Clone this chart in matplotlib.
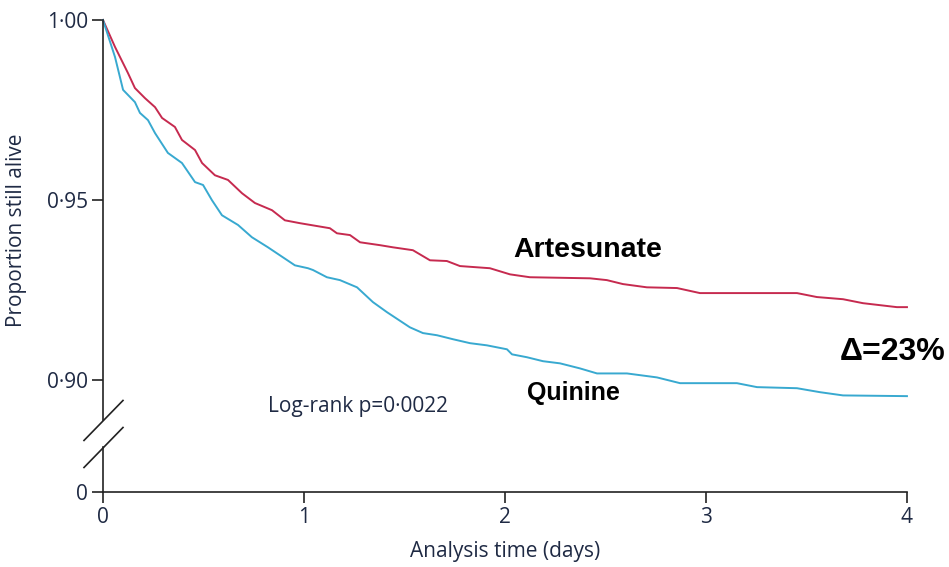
import matplotlib
matplotlib.use("Agg")
import matplotlib.pyplot as plt

# Kaplan-Meier curves (days, proportion alive)
art_days = [0, 0.060, 0.124, 0.159, 0.209, 0.259, 0.294, 0.358, 0.393, 0.458, 0.493,
            0.557, 0.622, 0.692, 0.756, 0.841, 0.905, 0.980, 1.129, 1.164, 1.229, 1.279,
            1.378, 1.443, 1.542, 1.627, 1.711, 1.776, 1.925, 2.025, 2.124, 2.423, 2.507,
            2.587, 2.706, 2.856, 2.970, 3.453, 3.552, 3.682, 3.781, 3.950, 4.0]
art_surv = [1.0, 0.9925, 0.9853, 0.9811, 0.9783, 0.9758, 0.9728, 0.9703, 0.9667, 0.9639, 0.9603,
            0.9569, 0.9556, 0.9519, 0.9492, 0.9472, 0.9444, 0.9436, 0.9422, 0.9408, 0.9403, 0.9383,
            0.9375, 0.9369, 0.9361, 0.9333, 0.9331, 0.9317, 0.9311, 0.9294, 0.9286, 0.9283, 0.9278,
            0.9267, 0.9258, 0.9256, 0.9242, 0.9242, 0.9231, 0.9225, 0.9214, 0.9203, 0.9203]

qui_days = [0, 0.060, 0.100, 0.159, 0.184, 0.224, 0.259, 0.323, 0.393, 0.458, 0.498, 0.542,
            0.592, 0.672, 0.741, 0.821, 0.955, 1.020, 1.045, 1.114, 1.179, 1.264, 1.343, 1.413,
            1.527, 1.592, 1.662, 1.741, 1.826, 1.910, 2.010, 2.035, 2.109, 2.189, 2.274, 2.373,
            2.458, 2.607, 2.756, 2.871, 3.154, 3.254, 3.453, 3.567, 3.682, 4.0]
qui_surv = [1.0, 0.9897, 0.9806, 0.9772, 0.9742, 0.9722, 0.9686, 0.9631, 0.9603, 0.9550, 0.9542, 0.9500,
            0.9458, 0.9431, 0.9397, 0.9369, 0.9319, 0.9311, 0.9306, 0.9286, 0.9278, 0.9258, 0.9217, 0.9189,
            0.9147, 0.9131, 0.9125, 0.9114, 0.9103, 0.9097, 0.9086, 0.9072, 0.9064, 0.9053, 0.9047, 0.9033,
            0.9019, 0.9019, 0.9008, 0.8992, 0.8992, 0.8981, 0.8978, 0.8967, 0.8958, 0.8956]

x_ticks = [0, 1, 2, 3, 4]
y_floor = 0.869  # where the broken axis puts "0"
y_ticks = [y_floor, 0.90, 0.95, 1.00]
y_ticklabels = ["0", "0\u00b790", "0\u00b795", "1\u00b700"]

red = "#c62a4f"
blue = "#38a9d0"
ink = "#222222"
txt = "#1f2a44"

fig = plt.figure(figsize=(9.49, 5.67), dpi=100)
ax = fig.add_axes([0.1085, 0.1323, 0.8472, 0.8325])

ax.plot(art_days, art_surv, color=red, lw=1.4, clip_on=False)
ax.plot(qui_days, qui_surv, color=blue, lw=1.4, clip_on=False)

ax.set_xlim(0, 4)
ax.set_ylim(y_floor, 1.0)
ax.set_xticks(x_ticks)
ax.set_yticks(y_ticks)
ax.set_yticklabels(y_ticklabels)

for s in ["top", "right", "left"]:
    ax.spines[s].set_visible(False)
ax.spines["bottom"].set_linewidth(1.2)
ax.spines["bottom"].set_color(ink)
ax.tick_params(direction="out", length=8, width=1.2, color=ink, labelcolor=txt,
               labelsize=15, pad=3)
for lab in ax.get_xticklabels() + ax.get_yticklabels():
    lab.set_family("Open Sans")

# left spine drawn in two parts with the break slashes
yt = ax.get_yaxis_transform()
ax.plot([0, 0], [1.0, 0.8889], transform=yt, color=ink, lw=1.2, clip_on=False)
ax.plot([0, 0], [0.8814, y_floor], transform=yt, color=ink, lw=1.2, clip_on=False)
ax.plot([-0.0236, 0.0249], [0.8833, 0.8944], transform=yt, color=ink, lw=1.2, clip_on=False)
ax.plot([-0.0236, 0.0249], [0.8758, 0.8869], transform=yt, color=ink, lw=1.2, clip_on=False)

ax.set_xlabel("Analysis time (days)", fontsize=15, family="Open Sans", color=txt, labelpad=9)
ax.set_ylabel("Proportion still alive", fontsize=15, family="Open Sans", color=txt)
ax.yaxis.set_label_coords(-0.094, 0.555)

ax.text(2.413, 0.9361, "Artesunate", fontsize=20.5, fontweight="bold", family="Liberation Sans",
        ha="center", va="center")
ax.text(2.343, 0.8964, "Quinine", fontsize=18, fontweight="bold", family="Liberation Sans",
        ha="center", va="center")
ax.text(3.93, 0.9078, "\u0394=23%", fontsize=23, fontweight="bold", family="Liberation Sans",
        ha="center", va="center", clip_on=False)
ax.text(0.821, 0.8928, "Log-rank p=0\u00b70022", fontsize=15, family="Open Sans",
        color=txt, ha="left", va="center")

fig.savefig("out.png", dpi=100)
